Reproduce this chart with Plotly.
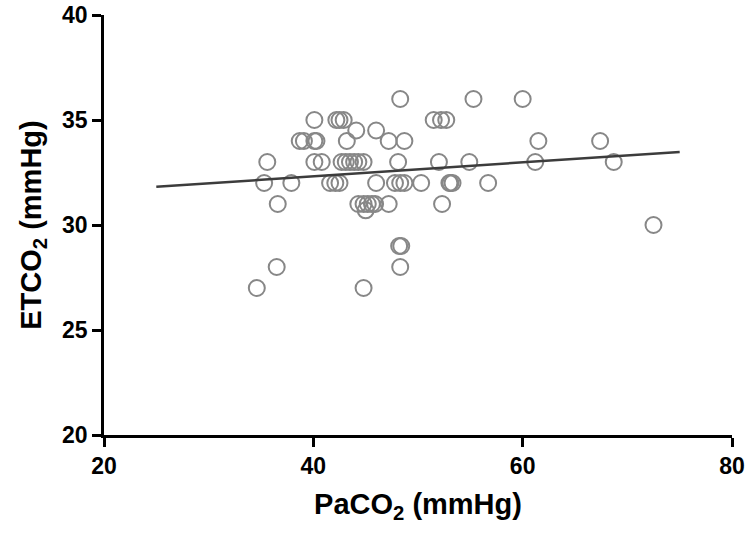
import plotly.graph_objects as go

# PaCO2 (x) and ETCO2 (y) values, grouped by ETCO2 level
paco2_36 = [48.3, 55.3, 60.0]
paco2_35 = [40.1, 42.2, 42.5, 42.9, 51.5, 52.2, 52.7]
paco2_345 = [44.1, 46.0]
paco2_34 = [38.7, 39.1, 40.1, 40.3, 43.2, 47.2, 48.7, 61.5, 67.4]
paco2_33 = [35.6, 40.1, 40.8, 42.7, 43.1, 43.5, 43.9, 44.3, 44.8, 48.1, 52.0, 54.9, 61.2, 68.7]
paco2_32 = [35.3, 37.9, 41.6, 42.1, 42.5, 46.0, 47.8, 48.3, 48.7, 50.3, 53.0, 53.1, 53.3, 56.7]
paco2_31 = [36.6, 44.3, 44.8, 45.2, 45.6, 45.9, 47.2, 52.3]
paco2_307 = [45.0]
paco2_30 = [72.5]
paco2_29 = [48.2, 48.4]
paco2_28 = [36.5, 48.3]
paco2_27 = [34.6, 44.8]

groups = [
    (36, paco2_36), (35, paco2_35), (34.5, paco2_345), (34, paco2_34),
    (33, paco2_33), (32, paco2_32), (31, paco2_31), (30.7, paco2_307),
    (30, paco2_30), (29, paco2_29), (28, paco2_28), (27, paco2_27),
]
x_vals = []
y_vals = []
for yv, xs in groups:
    for xv in xs:
        x_vals.append(xv)
        y_vals.append(yv)

# regression line endpoints
fit_x = [25, 75]
fit_y = [31.82, 33.48]

x_ticks = [20, 40, 60, 80]
y_ticks = [20, 25, 30, 35, 40]

fig = go.Figure()
fig.add_trace(go.Scatter(
    x=x_vals, y=y_vals, mode="markers",
    marker=dict(symbol="circle-open", size=16, color="rgb(135,135,135)",
                line=dict(width=2, color="rgb(135,135,135)")),
    showlegend=False, cliponaxis=False,
))
fig.add_trace(go.Scatter(
    x=fit_x, y=fit_y, mode="lines",
    line=dict(color="rgb(60,60,60)", width=2.5),
    showlegend=False,
))

font_family = "Liberation Sans, Arial, sans-serif"
fig.update_layout(
    width=750, height=537,
    margin=dict(l=104, r=18, t=15, b=102),
    plot_bgcolor="white", paper_bgcolor="white",
    font=dict(family=font_family, color="black"),
)
fig.update_xaxes(
    range=[20, 80], tickvals=x_ticks, ticktext=["<b>%d</b>" % t for t in x_ticks],
    showline=True, linecolor="black", linewidth=2.5,
    ticks="outside", ticklen=9, tickwidth=2.5, tickcolor="black",
    showgrid=False, zeroline=False, automargin=False,
    tickfont=dict(size=23, family=font_family, color="black"),
    title=dict(text="<b>PaCO<sub>2</sub> (mmHg)</b>", font=dict(size=29, family=font_family), standoff=16),
)
fig.update_yaxes(
    range=[20, 40], tickvals=y_ticks, ticktext=["<b>%d</b>" % t for t in y_ticks],
    showline=True, linecolor="black", linewidth=2.5,
    ticks="outside", ticklen=9, tickwidth=2.5, tickcolor="black",
    showgrid=False, zeroline=False, automargin=False,
    tickfont=dict(size=23, family=font_family, color="black"),
    title=dict(text="<b>ETCO<sub>2</sub> (mmHg)</b>", font=dict(size=29, family=font_family), standoff=12),
)
fig.write_html("out.html", config={"displayModeBar": False},
               post_script="document.body.style.margin='0';")
